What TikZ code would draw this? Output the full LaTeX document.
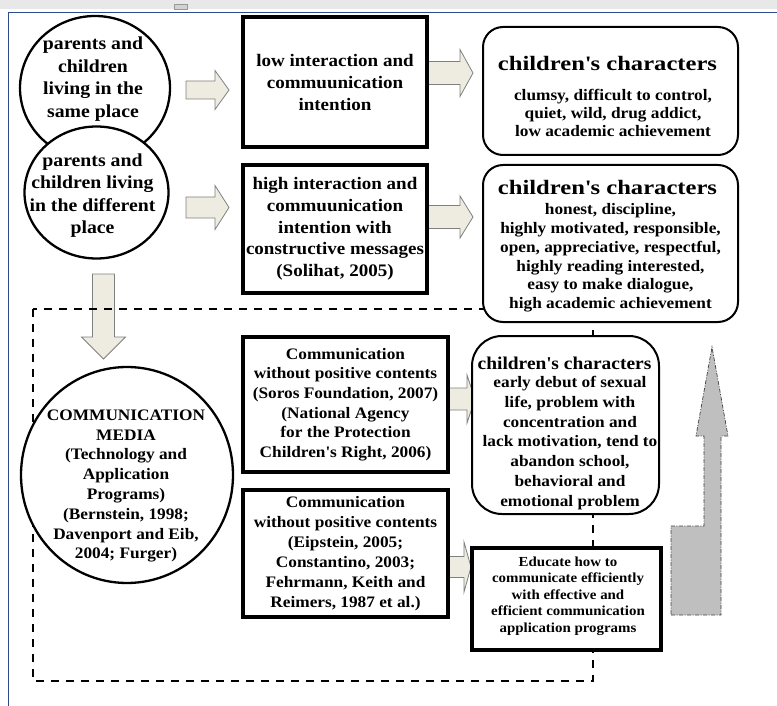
\documentclass[tikz,border=0pt]{standalone}
\usepackage{fontspec}
\setmainfont{Liberation Serif}[FakeStretch=1.08]
\newfontfamily\titlefont{Liberation Serif}[FakeStretch=1.2]
\usetikzlibrary{shapes.geometric,calc}
\definecolor{beige}{HTML}{EEECE1}
\definecolor{arrowline}{HTML}{7F7F7F}
\definecolor{grayfill}{HTML}{BFBFBF}
\definecolor{frameblue}{HTML}{2E4C8C}
\definecolor{barbg}{HTML}{E8E8E8}
\definecolor{tabbg}{HTML}{D2D2D2}
\newcommand{\fs}[2]{\fontsize{#1}{#2}\selectfont\bfseries}
\newcommand{\hblockarrow}[5]{%
  \draw[barrow] ($(#1)+(0,#3)$) -- ($(#2)+(-#5,#3)$) -- ($(#2)+(-#5,#4)$) -- (#2)
    -- ($(#2)+(-#5,-#4)$) -- ($(#2)+(-#5,-#3)$) -- ($(#1)+(0,-#3)$) -- cycle;}
\newcommand{\vblockarrow}[5]{%
  \draw[barrow] ($(#1)+(-#3,0)$) -- ($(#2)+(-#3,-#5)$) -- ($(#2)+(-#4,-#5)$) -- (#2)
    -- ($(#2)+(#4,-#5)$) -- ($(#2)+(#3,-#5)$) -- ($(#1)+(#3,0)$) -- cycle;}
\tikzset{
  ov/.style={ellipse, draw=black, line width=2.3pt, fill=white, inner sep=0pt},
  thickbox/.style={rectangle, draw=black, line width=3.2pt, fill=white, inner sep=0pt, align=center},
  roundbox/.style={rectangle, rounded corners=20pt, draw=black, line width=2pt, fill=white, inner sep=0pt},
  txt/.style={align=center, inner sep=0pt},
  barrow/.style={draw=arrowline, line width=0.8pt, fill=beige, line join=miter},
  grayarrow/.style={draw=black!75, line width=0.7pt, fill=grayfill, dash pattern=on 4pt off 1.5pt on 1pt off 1.5pt},
  dashframe/.style={draw=black, line width=1.8pt, dash pattern=on 8pt off 7pt},
}
\begin{document}
\begin{tikzpicture}[x=1pt,y=-1pt]
\useasboundingbox (0,0) rectangle (777,706);
% window frame
\fill[barbg] (0,0) rectangle (777,9);
\draw[draw=black!40, fill=tabbg, line width=0.4pt] (174,4) rectangle (187,9);
\draw[frameblue, line width=1.3pt] (8.5,706) -- (8.5,12.5) -- (777,12.5);

% down arrow to communication media
\coordinate (a7s) at (103.5,274);
\coordinate (a7e) at (103.5,359);
\vblockarrow{a7s}{a7e}{11}{22}{22}

% dashed frame
\coordinate (dtl) at (33,309);
\coordinate (dbr) at (593,681);
\draw[dashframe] (dtl) rectangle (dbr);

% circles
\node[ov, minimum width=150pt, minimum height=144pt] (c1) at (95,88) {};
\node[ov, minimum width=144pt, minimum height=132pt] (c2) at (96.5,192.5) {};
\node[ov, minimum width=212pt, minimum height=216pt] (c3) at (127,475) {};
\node[txt, font=\fs{18.3}{22.6}] (c1t) at (93,79) {parents and\\children\\living in the\\same place};
\node[txt, font=\fs{18.3}{22.6}] (c2t) at (92.5,195.5) {parents and\\children living\\in the different\\place};
\node[txt, font=\fs{16}{19.8}] (c3t) at (126,486) {COMMUNICATION\\MEDIA\\(Technology and\\Application\\Programs)\\(Bernstein, 1998;\\Davenport and Eib,\\2004; Furger)};

% horizontal block arrows
\coordinate (a1s) at (186,90);    \coordinate (a1e) at (229,90);
\coordinate (a2s) at (186,207.5); \coordinate (a2e) at (229,207.5);
\coordinate (a3s) at (427,73);    \coordinate (a3e) at (473,73);
\coordinate (a4s) at (427,217);   \coordinate (a4e) at (473,217);
\coordinate (a5s) at (448,399);   \coordinate (a5e) at (475,399);
\coordinate (a6s) at (448,567);   \coordinate (a6e) at (471,567);
\hblockarrow{a1s}{a1e}{9}{19.5}{14}
\hblockarrow{a2s}{a2e}{10.5}{22}{14}
\hblockarrow{a3s}{a3e}{11.5}{23.5}{13}
\hblockarrow{a4s}{a4e}{11.5}{21}{13}
\hblockarrow{a5s}{a5e}{11}{24}{8}
\hblockarrow{a6s}{a6e}{10.5}{25}{7}

% middle boxes
\node[thickbox, minimum width=184pt, minimum height=130pt, font=\fs{17.6}{22}] (b1) at (335,82)
  {low interaction and\\commuunication\\intention};
\node[thickbox, minimum width=184pt, minimum height=128pt, font=\fs{17.6}{21.7}] (b2) at (335,229)
  {high interaction and\\commuunication\\intention with\\constructive messages\\(Solihat, 2005)};
\node[thickbox, minimum width=205pt, minimum height=135pt, font=\fs{16}{19.6}] (b3) at (345.5,404.5)
  {Communication\\without positive contents\\(Soros Foundation, 2007)\\(National Agency\\for the Protection\\Children\textquotesingle s Right, 2006)};
\node[thickbox, minimum width=205pt, minimum height=127pt, font=\fs{16}{20}] (b4) at (345.5,553.5)
  {Communication\\without positive contents\\(Eipstein, 2005;\\Constantino, 2003;\\Fehrmann, Keith and\\Reimers, 1987 et al.)};

% right boxes
\node[roundbox, minimum width=255pt, minimum height=128pt] (r1) at (610.5,91) {};
\node[txt, font=\titlefont\fs{20.5}{24}] (r1t) at (607.5,63) {children\textquotesingle s characters};
\node[txt, font=\fs{16}{18}] (r1b) at (613,113) {clumsy, difficult to control,\\quiet, wild, drug addict,\\low academic achievement};

\node[roundbox, minimum width=255pt, minimum height=157pt] (r2) at (610.5,243.5) {};
\node[txt, font=\titlefont\fs{20.5}{24}] (r2t) at (607.5,187) {children\textquotesingle s characters};
\node[txt, font=\fs{16}{18.8}] (r2b) at (610.5,258) {honest, discipline,\\highly motivated, responsible,\\open, appreciative, respectful,\\highly reading interested,\\easy to make dialogue,\\high academic achievement};

\node[roundbox, rounded corners=30pt, minimum width=187pt, minimum height=178pt] (r3) at (565.5,425) {};
\node[txt, font=\fs{18}{20}] (r3t) at (564.5,363) {children\textquotesingle s characters};
\node[txt, font=\fs{16}{19.7}] (r3b) at (570,443) {early debut of sexual\\life, problem with\\concentration and\\lack motivation, tend to\\abandon school,\\behavioral and\\emotional problem};

\node[thickbox, minimum width=189pt, minimum height=102pt] (r4) at (566.5,599) {};
\node[txt, font=\fs{13.8}{16.5}] (r4t) at (568,596) {Educate how to\\communicate efficiently\\with effective and\\efficient communication\\application programs};

% grey bent arrow
\draw[grayarrow] (671,615) -- (721,615) -- (721,436) -- (728,436) -- (712,347) -- (696,436)
  -- (704,436) -- (704,526) -- (671,526) -- cycle;
\end{tikzpicture}
\end{document}
